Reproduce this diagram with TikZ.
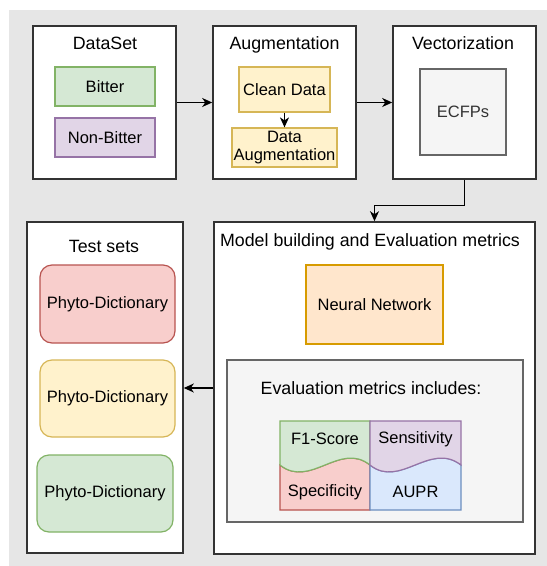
\documentclass[tikz,border=0pt]{standalone}
\usepackage{fontspec}
\setmainfont{Liberation Sans}
\usetikzlibrary{arrows.meta}
\definecolor{bgc}{HTML}{E6E6E6}
\definecolor{greenF}{HTML}{D5E8D4}\definecolor{greenD}{HTML}{82B366}
\definecolor{purpleF}{HTML}{E1D5E7}\definecolor{purpleD}{HTML}{9673A6}
\definecolor{yellowF}{HTML}{FFF2CC}\definecolor{yellowD}{HTML}{D6B656}
\definecolor{redF}{HTML}{F8CECC}\definecolor{redD}{HTML}{B85450}
\definecolor{orangeF}{HTML}{FFE6CC}\definecolor{orangeD}{HTML}{D79B00}
\definecolor{blueF}{HTML}{DAE8FC}\definecolor{blueD}{HTML}{6C8EBF}
\definecolor{grayF}{HTML}{F5F5F5}\definecolor{grayD}{HTML}{666666}
\definecolor{outl}{HTML}{333333}
\tikzset{
  outer/.style={draw=outl, line width=1.6pt, fill=white, inner sep=0pt},
  inbox/.style={draw=#1D, fill=#1F, line width=1.2pt, inner sep=0pt, font=\fontsize{16.5}{19}\selectfont},
  title/.style={inner sep=0pt, font=\fontsize{17.8}{21}\selectfont},
  lbl/.style={inner sep=0pt, font=\fontsize{16.5}{19}\selectfont},
  arr/.style={draw=black, line width=1.2pt, -{Stealth[length=10pt,width=9pt,inset=3pt]}},
}
\begin{document}
\begin{tikzpicture}[x=1pt,y=-1pt]
\useasboundingbox (0,0) rectangle (547,566);
\fill[white] (0,0) rectangle (547,566);
\fill[bgc] (9,10) rectangle (547,566);

% top row
\node[outer, minimum width=143pt, minimum height=153pt] (ds) at (104.5,102.5) {};
\node[outer, minimum width=143pt, minimum height=153pt] (aug) at (284.5,102.5) {};
\node[outer, minimum width=143pt, minimum height=153pt] (vec) at (464.5,102.5) {};
\node[title] (dst) at (105,43) {DataSet};
\node[title] (augt) at (284.5,45) {Augmentation};
\node[title] (vect) at (463,43) {Vectorization};

\node[inbox=green, minimum width=100pt, minimum height=39pt] (bit) at (105,86.5) {Bitter};
\node[inbox=purple, minimum width=100pt, minimum height=39pt] (nbit) at (105,137.5) {Non-Bitter};
\node[inbox=yellow, minimum width=91pt, minimum height=45pt] (clean) at (284.5,89.5) {Clean Data};
\node[inbox=yellow, minimum width=105pt, minimum height=39pt, align=center, font=\fontsize{16.5}{18.5}\selectfont] (daug) at (284.5,147.5) {Data\\Augmentation};
\node[inbox=gray, minimum width=86pt, minimum height=86pt, text=outl] (ecfp) at (463,112) {ECFPs};

% bottom row
\node[outer, minimum width=321pt, minimum height=332pt] (model) at (374.5,388) {};
\node[outer, minimum width=156pt, minimum height=331pt] (test) at (105,387.5) {};
\node[title] (modt) at (370,242) {Model building and Evaluation metrics};
\node[title] (testt) at (104,246) {Test sets};

\node[inbox=orange, minimum width=137pt, minimum height=79pt] (nn) at (374.5,304.5) {Neural Network};
\node[inbox=gray, minimum width=296pt, minimum height=162pt] (eval) at (375,441) {};
\node[title] (evalt) at (371,388) {Evaluation metrics includes:};

\node[inbox=red, rounded corners=12pt, minimum width=135pt, minimum height=78pt] (p1) at (107.5,304) {Phyto-Dictionary};
\node[inbox=yellow, rounded corners=12pt, minimum width=135pt, minimum height=77pt] (p2) at (107.5,398.5) {Phyto-Dictionary};
\node[inbox=green, rounded corners=12pt, minimum width=136pt, minimum height=77pt] (p3) at (105,493.5) {Phyto-Dictionary};

% metric cells
\filldraw[fill=redF, draw=redD, line width=1.2pt]
  (280,465) .. controls (310,489) and (340,441) .. (370,465) -- (370,510) -- (280,510) -- cycle;
\filldraw[fill=greenF, draw=greenD, line width=1.2pt]
  (280,421) -- (370,421) -- (370,465) .. controls (340,441) and (310,489) .. (280,465) -- cycle;
\filldraw[fill=blueF, draw=blueD, line width=1.2pt]
  (370,465) .. controls (400,489) and (430,441) .. (461,465) -- (461,510) -- (370,510) -- cycle;
\filldraw[fill=purpleF, draw=purpleD, line width=1.2pt]
  (370,421) -- (461,421) -- (461,465) .. controls (430,441) and (400,489) .. (370,465) -- cycle;
\node[lbl] (f1) at (325,439) {F1-Score};
\node[lbl] (sens) at (415.5,439) {Sensitivity};
\node[lbl] (spec) at (325,492) {Specificity};
\node[lbl] (aupr) at (415.5,492) {AUPR};

% connectors
\draw[arr] (ds.east) -- (aug.west);
\draw[arr] (aug.east) -- (vec.west);
\draw[arr] (clean.south) -- (daug.north);
\draw[arr] (vec.south) -- ++(0,26) -| (model.north);
\draw[arr] (model.west) -- (test.east |- model.west);
\end{tikzpicture}
\end{document}
